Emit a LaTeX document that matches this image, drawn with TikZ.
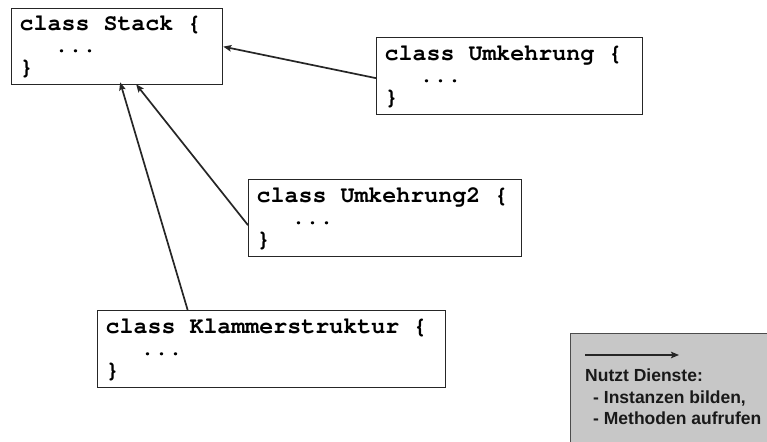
\documentclass[tikz,border=0pt]{standalone}
\usepackage[T1,TU]{fontenc}
\usepackage{fontspec}
\newfontfamily\legfont{Liberation Sans}
\usetikzlibrary{arrows.meta,calc}
\newcommand\codefont{\fontencoding{T1}\fontfamily{pcr}\fontseries{b}\selectfont}
\newcommand\myind{\hspace*{1.5em}}
\newcommand\fixsp{\spaceskip=0.6em\relax}
\begin{document}
\begin{tikzpicture}[x=1pt,y=-1pt,
  codebox/.style={draw=black!85,line width=1.3pt,fill=white,anchor=north west,
    inner xsep=8pt,inner ysep=0pt,align=left,
    font=\codefont\fontsize{23.3pt}{22pt}\selectfont,
    execute at begin node=\fixsp},
  arr/.style={draw=black!85,line width=1.7pt,-{Stealth[length=8pt,width=6.5pt,inset=1.5pt]}},
  legtext/.style={anchor=base west,inner sep=0pt,text=black!90,font=\legfont\bfseries\fontsize{17.5pt}{21pt}\selectfont}]
\useasboundingbox (0,0) rectangle (767,441);
\clip (0,0) rectangle (767,441);
\fill[white] (0,0) rectangle (767,441);
% legend
\node[draw=black!70,line width=1pt,fill=black!22,anchor=north west,minimum width=220pt,minimum height=130pt] (leg) at (570,333) {};
\coordinate (la) at (585,355);
\coordinate (lb) at (679,355);
\draw[arr,line width=1.4pt] (la) -- (lb);
\node[legtext] (l1) at (585,381) {Nutzt Dienste:};
\node[legtext] (l2) at (593,403) {- Instanzen bilden,};
\node[legtext] (l3) at (593,424) {- Methoden aufrufen};
% boxes
\node[codebox,text width=195pt,minimum height=76pt] (stack) at (11,8)
  {class Stack \{\\\myind...\\\}};
\node[codebox,text width=250pt,minimum height=77pt] (u1) at (376,37)
  {class Umkehrung \{\\\myind...\\\}};
\node[codebox,text width=257pt,minimum height=77pt] (u2) at (248,179)
  {class Umkehrung2 \{\\\myind...\\\}};
\node[codebox,text width=332pt,minimum height=77pt] (kl) at (97,310)
  {class Klammerstruktur \{\\\myind...\\\}};
% connectors
\draw[arr] ([yshift=-2pt]u1.west) -- (stack.east);
\draw[arr] ([yshift=-7pt]u2.west) -- ([xshift=19pt,yshift=1pt]stack.south);
\draw[arr] ([xshift=-84pt]kl.north) -- ([xshift=3pt,yshift=3pt]stack.south);
\end{tikzpicture}
\end{document}
